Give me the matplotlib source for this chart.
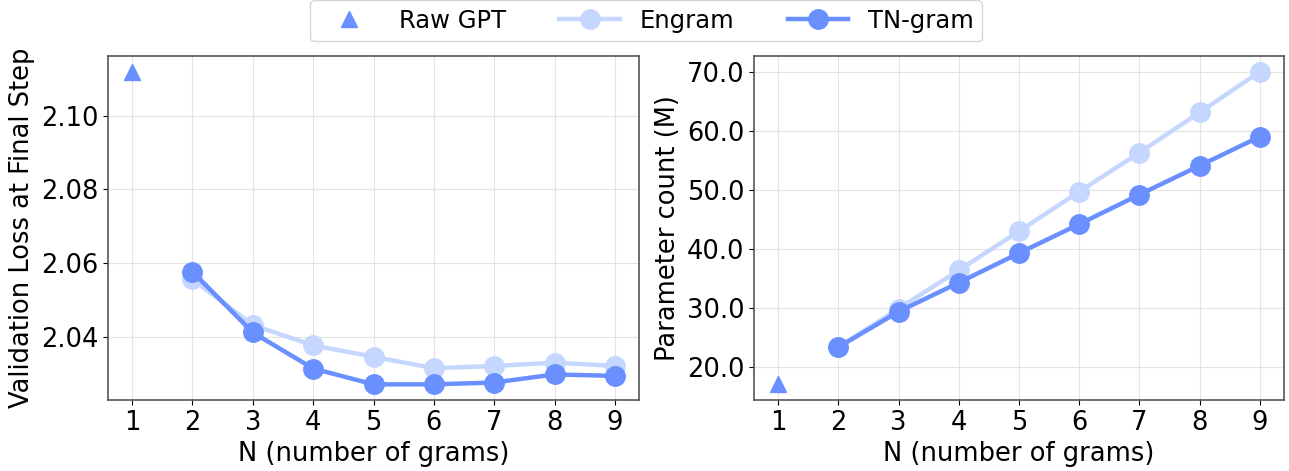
import matplotlib.pyplot as plt
from matplotlib.ticker import FormatStrFormatter

# data
n_grams = [2, 3, 4, 5, 6, 7, 8, 9]
raw_gpt_x = [1]
raw_gpt_loss = [2.112]
raw_gpt_params = [17.1]

engram_loss = [2.0556, 2.0431, 2.0376, 2.0345, 2.0314, 2.0320, 2.0329, 2.0320]
tngram_loss = [2.0576, 2.0411, 2.0313, 2.0270, 2.0270, 2.0275, 2.0297, 2.0293]

engram_params = [23.4, 29.9, 36.4, 43.0, 49.7, 56.3, 63.1, 70.0]
tngram_params = [23.4, 29.4, 34.3, 39.3, 44.2, 49.2, 54.1, 59.0]

c_tn = "#6a8fff"
c_en = "#c5d7ff"
fs = 18.5

fig = plt.figure(figsize=(12.89, 4.71), dpi=100)
W, H = 1289, 471
ax1 = fig.add_axes([108 / W, 1 - 400 / H, (639 - 108) / W, (400 - 56) / H])
ax2 = fig.add_axes([754 / W, 1 - 400 / H, (1284 - 754) / W, (400 - 56) / H])


def draw(ax, en, tn, raw):
    ax.grid(color="#e3e3e3", linewidth=0.8, zorder=0)
    ax.plot(raw_gpt_x, raw, "^", color=c_tn, markersize=12, linestyle="none",
            label="Raw GPT", zorder=3)
    ax.plot(n_grams, en, "-o", color=c_en, linewidth=3.2, markersize=14,
            label="Engram", zorder=3)
    ax.plot(n_grams, tn, "-o", color=c_tn, linewidth=3.2, markersize=14,
            label="TN-gram", zorder=4)
    ax.set_xticks(range(1, 10))
    ax.set_xlabel("N (number of grams)", fontsize=fs)
    ax.tick_params(labelsize=fs)
    for s in ax.spines.values():
        s.set_color("#555555")
        s.set_linewidth(1.2)


draw(ax1, engram_loss, tngram_loss, raw_gpt_loss)
ax1.set_ylabel("Validation Loss at Final Step", fontsize=fs)
ax1.set_yticks([2.04, 2.06, 2.08, 2.10])
ax1.yaxis.set_major_formatter(FormatStrFormatter("%.2f"))

draw(ax2, engram_params, tngram_params, raw_gpt_params)
ax2.set_ylabel("Parameter count (M)", fontsize=fs)
ax2.set_yticks([20, 30, 40, 50, 60, 70])
ax2.yaxis.set_major_formatter(FormatStrFormatter("%.1f"))

handles, labels = ax1.get_legend_handles_labels()
fig.legend(handles, labels, loc="upper center", bbox_to_anchor=(646 / W, 1.025),
           ncol=3, fontsize=17.5, frameon=True, edgecolor="#cccccc",
           columnspacing=2.2, handlelength=2.5, borderpad=0.35)

fig.savefig("out.png", dpi=100)
